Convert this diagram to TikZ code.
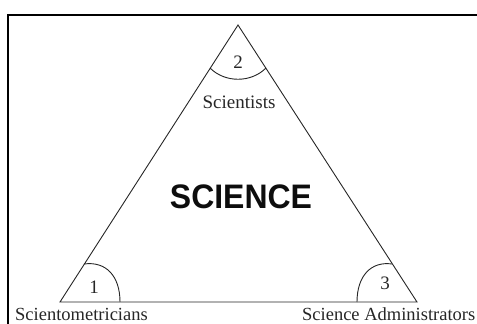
\documentclass[tikz,border=0pt]{standalone}
\usepackage{fontspec}
\setmainfont{Liberation Serif}
\newfontfamily\sansbold{Liberation Sans}
\begin{document}
\begin{tikzpicture}[x=1pt,y=-1pt,
  edge/.style={draw=black!85, line width=0.9pt},
  frame/.style={draw=black, line width=2.2pt},
  lbl/.style={inner sep=0pt, text=black!85, font=\fontsize{19}{19}\selectfont},
  bottomlbl/.style={inner sep=0pt, text=black!85, font=\fontsize{18.5}{18.5}\selectfont},
  title/.style={inner sep=0pt, text=black!95, font=\sansbold\bfseries\fontsize{34}{34}\selectfont}]
\useasboundingbox (0,0) rectangle (477,324);
% frame
\draw[frame] (8,340) -- (8,15) -- (490,15);
% triangle vertices
\coordinate (A) at (60,302);
\coordinate (B) at (238,25);
\coordinate (C) at (417,302);
\draw[edge, line join=miter] (A) -- (B) -- (C) -- cycle;
% angle arcs
\coordinate (b1) at (210,68);
\coordinate (b2) at (266,68);
\draw[edge] (b1) .. controls (225,83) and (251,83) .. (b2);
\coordinate (a1) at (120,302);
\coordinate (a2) at (84,264);
\draw[edge] (a1) .. controls (120,276) and (106,261) .. (a2);
\coordinate (c1) at (357,302);
\coordinate (c2) at (392,264);
\draw[edge] (c1) .. controls (357,276) and (371,261) .. (c2);
% labels
\node[lbl] (n2) at (238,62) {2};
\node[lbl] (n1) at (94,287) {1};
\node[lbl] (n3) at (385,283) {3};
\node[lbl, anchor=base] (sci) at (239,108) {Scientists};
\node[bottomlbl, anchor=base west] (scm) at (15,320.5) {Scientometricians};
\node[bottomlbl, anchor=base east] (adm) at (475.5,320.5) {Science Administrators};
\node[title, xscale=0.94] (main) at (241,197) {SCIENCE};
\end{tikzpicture}
\end{document}
